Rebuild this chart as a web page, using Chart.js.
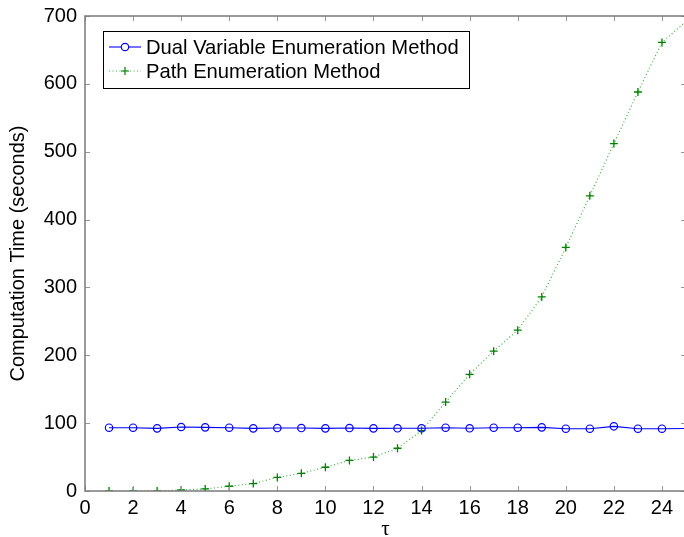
<!DOCTYPE html>
<html>
<head>
<meta charset="utf-8">
<script src="https://cdn.jsdelivr.net/npm/chart.js@4/dist/chart.umd.min.js"></script>
<style>
html,body{margin:0;padding:0;background:#fff;overflow:hidden;width:684px;height:537px;}
#wrap{position:absolute;left:0;top:0;width:686px;height:537px;}
</style>
</head>
<body>
<div id="wrap"><canvas id="c" width="686" height="537"></canvas></div>
<script>
const tau = [1,2,3,4,5,6,7,8,9,10,11,12,13,14,15,16,17,18,19,20,21,22,23,24,25];
const dualVariable = [93.3,93.3,92.3,94.3,93.8,93.3,92.3,92.8,92.8,92.3,92.8,92.3,92.4,92.4,93.3,92.4,93.3,93.3,93.8,91.8,91.8,95.3,91.8,91.8,92];
const pathEnum = [0,0,0,1.5,3,7,11,20,26,35,45,50,63,89,131,172,206,237,286,359,435,512,588,661,692];
const xTicks = [0,2,4,6,8,10,12,14,16,18,20,22,24];
const yTicks = [0,100,200,300,400,500,600,700];
const seriesNames = ['Dual Variable Enumeration Method','Path Enumeration Method'];

const FONT = 'Liberation Sans, Arial, Helvetica, sans-serif';
const AXIS_GREY = '#7a7a7a';

const boxAndTicks = {
  id: 'boxAndTicks',
  afterDatasetsDraw(chart) {
    const {ctx, chartArea: a, scales: {x, y}} = chart;
    ctx.save();
    ctx.strokeStyle = '#999';
    ctx.lineWidth = 1;
    const tl = 5;
    ctx.beginPath();
    xTicks.forEach(v => {
      const px = Math.round(x.getPixelForValue(v)) + 0.5;
      ctx.moveTo(px, a.bottom); ctx.lineTo(px, a.bottom - tl);
      ctx.moveTo(px, a.top); ctx.lineTo(px, a.top + tl);
    });
    yTicks.forEach(v => {
      const py = Math.round(y.getPixelForValue(v)) + 0.5;
      ctx.moveTo(a.left, py); ctx.lineTo(a.left + tl, py);
      ctx.moveTo(a.right, py); ctx.lineTo(a.right - tl, py);
    });
    ctx.stroke();
    ctx.strokeStyle = AXIS_GREY;
    ctx.lineWidth = 1.5;
    ctx.strokeRect(a.left, a.top, a.right - a.left, a.bottom - a.top);
    ctx.restore();
  },
  afterDraw(chart) {
    const {ctx, chartArea: a} = chart;
    const ds = chart.data.datasets;
    ctx.save();
    const bx = a.left + 18, by = a.top + 15, bw = 366, bh = 57;
    ctx.fillStyle = '#fff';
    ctx.fillRect(bx, by, bw, bh);
    ctx.strokeStyle = '#000';
    ctx.lineWidth = 1;
    ctx.strokeRect(bx + 0.5, by + 0.5, bw, bh);
    ctx.font = '20.2px ' + FONT;
    ctx.textBaseline = 'middle';
    ds.forEach((d, i) => {
      const cy = by + 16 + i * 24;
      const x0 = bx + 6, x1 = bx + 38, xm = (x0 + x1) / 2;
      ctx.save();
      ctx.strokeStyle = d.borderColor;
      ctx.lineWidth = d.borderWidth;
      ctx.setLineDash(d.borderDash || []);
      ctx.beginPath(); ctx.moveTo(x0, cy); ctx.lineTo(x1, cy); ctx.stroke();
      ctx.restore();
      ctx.save();
      ctx.strokeStyle = d.pointBorderColor;
      ctx.lineWidth = 1.2;
      ctx.beginPath();
      if (d.pointStyle === 'circle') {
        ctx.fillStyle = '#fff';
        ctx.arc(xm, cy, 3.7, 0, Math.PI * 2);
        ctx.fill();
      } else {
        ctx.moveTo(xm - 4, cy); ctx.lineTo(xm + 4, cy);
        ctx.moveTo(xm, cy - 4); ctx.lineTo(xm, cy + 4);
      }
      ctx.stroke();
      ctx.restore();
      ctx.fillStyle = '#000';
      ctx.fillText(d.label, bx + 43, cy + 1);
    });
    ctx.restore();
  }
};

const lastHidden = tau.map((t, i) => i === tau.length - 1 ? 0 : 1);

new Chart(document.getElementById('c'), {
  type: 'line',
  data: {
    datasets: [
      {
        label: seriesNames[0],
        data: tau.map((t, i) => ({x: t, y: dualVariable[i]})),
        borderColor: '#0000ff',
        borderWidth: 1.1,
        pointStyle: 'circle',
        pointRadius: lastHidden.map(k => k * 3.7),
        pointBorderWidth: 1.2,
        pointBorderColor: '#0000ff',
        pointBackgroundColor: 'rgba(255,255,255,0)',
        tension: 0,
        fill: false
      },
      {
        label: seriesNames[1],
        data: tau.map((t, i) => ({x: t, y: pathEnum[i]})),
        borderColor: 'rgba(0,150,0,0.75)',
        borderWidth: 1.2,
        borderDash: [1, 2.5],
        pointStyle: 'cross',
        pointRadius: lastHidden.map(k => k * 4),
        pointBorderWidth: 1.3,
        pointBorderColor: '#008000',
        tension: 0,
        fill: false
      }
    ]
  },
  options: {
    responsive: false,
    animation: false,
    layout: {autoPadding: false, padding: {left: 0, right: 0, top: 16, bottom: 0}},
    plugins: {legend: {display: false}, tooltip: {enabled: false}},
    scales: {
      x: {
        type: 'linear', min: 0, max: 25,
        border: {display: false},
        grid: {display: false, drawTicks: false},
        afterBuildTicks: s => { s.ticks = xTicks.map(v => ({value: v})); },
        afterFit: s => { s.height = 46; s.paddingLeft = 0; s.paddingRight = 0; },
        ticks: {color: '#000', font: {size: 20, family: FONT}, padding: 5, maxRotation: 0, autoSkip: false},
        title: {display: true, text: 'τ', color: '#000', font: {size: 21, family: 'Liberation Serif, DejaVu Serif, serif'}, padding: {top: 0, bottom: -5}}
      },
      y: {
        type: 'linear', min: 0, max: 700,
        border: {display: false},
        grid: {display: false, drawTicks: false},
        afterBuildTicks: s => { s.ticks = yTicks.map(v => ({value: v})); },
        afterFit: s => { s.width = 85; s.paddingTop = 0; s.paddingBottom = 0; },
        ticks: {color: '#000', font: {size: 20, family: FONT}, padding: 8, autoSkip: false},
        title: {display: true, text: 'Computation Time (seconds)', color: '#000', font: {size: 20, family: FONT}, padding: {top: 6, bottom: 0}}
      }
    }
  },
  plugins: [boxAndTicks]
});
</script>
</body>
</html>
